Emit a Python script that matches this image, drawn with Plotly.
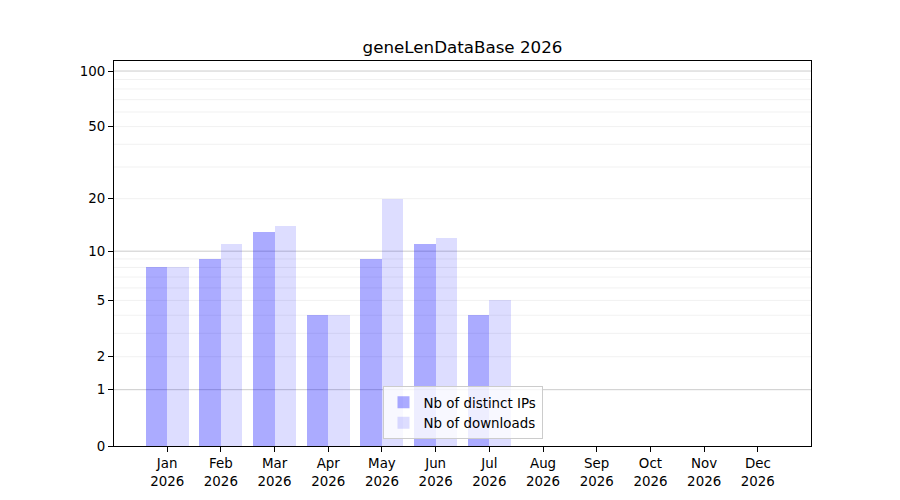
import numpy as np
import plotly.graph_objs as go

months = ["Jan", "Feb", "Mar", "Apr", "May", "Jun", "Jul", "Aug", "Sep", "Oct", "Nov", "Dec"]
year = "2026"
distinctIPs = [8, 9, 13, 4, 9, 11, 4, 0, 0, 0, 0, 0]
downloads = [8, 11, 14, 4, 20, 12, 5, 0, 0, 0, 0, 0]
yTicks = [0, 1, 2, 5, 10, 20, 50, 100]
majorGrid = [1, 10, 100]
minorGrid = [2, 3, 4, 5, 6, 7, 8, 9, 20, 30, 40, 50, 60, 70, 80, 90]

def scale(v):
    # log(1 + x) axis, like the original
    return np.log10(1 + np.asarray(v, dtype = float))

x = np.arange(len(months))
font = "DejaVu Sans"

traces = [
    go.Bar(x = x - 0.2, y = scale(distinctIPs), width = 0.4, name = "Nb of distinct IPs",
           marker = dict(color = "rgba(0,0,255,0.33)", line = dict(width = 0)),
           customdata = distinctIPs, hovertemplate = "%{customdata}"),
    go.Bar(x = x + 0.2, y = scale(downloads), width = 0.4, name = "Nb of downloads",
           marker = dict(color = "rgba(0,0,255,0.135)", line = dict(width = 0)),
           customdata = downloads, hovertemplate = "%{customdata}"),
]

shapes = []
for v in minorGrid:
    shapes.append(dict(type = "line", xref = "paper", yref = "y", x0 = 0, x1 = 1,
                       y0 = float(scale(v)), y1 = float(scale(v)), layer = "below",
                       line = dict(color = "#eeeeee", width = 0.8)))
for v in majorGrid:
    shapes.append(dict(type = "line", xref = "paper", yref = "y", x0 = 0, x1 = 1,
                       y0 = float(scale(v)), y1 = float(scale(v)), layer = "below",
                       line = dict(color = "#cccccc", width = 1)))

layout = go.Layout(
    width = 900, height = 500,
    # page body adds ~7px offset, so shift margins to compensate
    margin = dict(l = 106, r = 97, t = 53, b = 62),
    paper_bgcolor = "white", plot_bgcolor = "white",
    font = dict(family = font, size = 13.4, color = "black"),
    title = dict(text = "geneLenDataBase 2026", x = 0.5, xref = "paper", xanchor = "center",
                 y = 0.922, yanchor = "middle", font = dict(size = 16.7)),
    showlegend = True,
    legend = dict(x = 0.5, xanchor = "center", y = 0.018, yanchor = "bottom",
                  bgcolor = "rgba(255,255,255,0.8)", bordercolor = "#cccccc", borderwidth = 1,
                  font = dict(size = 13.4)),
    xaxis = dict(range = [-0.99, 11.99], tickmode = "array", tickvals = x,
                 ticktext = [m + "<br>" + year for m in months],
                 showgrid = False, zeroline = False, showline = True, mirror = True,
                 linecolor = "black", linewidth = 1, ticks = "outside", ticklen = 5,
                 tickcolor = "black"),
    yaxis = dict(range = [0, 2.058], tickmode = "array", tickvals = scale(yTicks),
                 ticktext = [str(t) for t in yTicks],
                 showgrid = False, zeroline = False, showline = True, mirror = True,
                 linecolor = "black", linewidth = 1, ticks = "outside", ticklen = 5,
                 tickcolor = "black"),
    shapes = shapes,
    bargap = 0,
)

fig = go.Figure(data = traces, layout = layout)
fig.write_html("out.html")
